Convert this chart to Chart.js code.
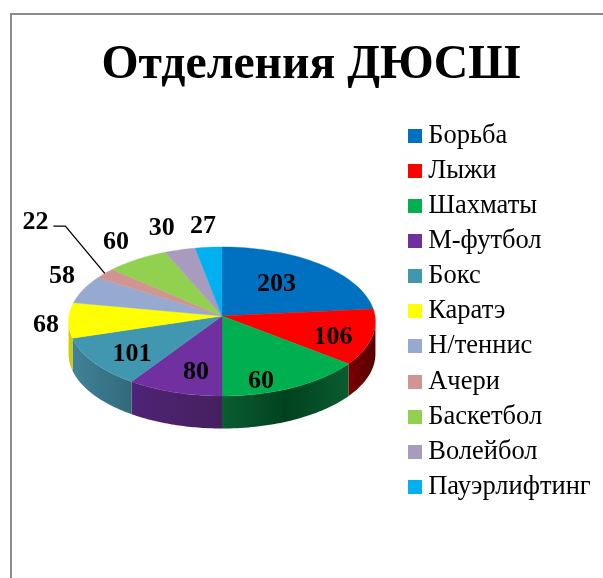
<!DOCTYPE html>
<html>
<head>
<meta charset="utf-8">
<script src="https://cdn.jsdelivr.net/npm/chart.js@4"></script>
<style>
  html, body { margin: 0; padding: 0; background: #fff; }
  #wrap { position: relative; width: 603px; height: 578px; }
</style>
</head>
<body>
<div id="wrap"><canvas id="chart" width="603" height="578"></canvas></div>
<script>
const categories = ['Борьба', 'Лыжи', 'Шахматы', 'М-футбол', 'Бокс', 'Каратэ', 'Н/теннис', 'Ачери', 'Баскетбол', 'Волейбол', 'Пауэрлифтинг'];
const sliceValues = [203, 104, 125, 81, 94, 66, 53, 21, 61, 30, 26];
const printedValues = ['203', '106', '60', '80', '101', '68', '58', '22', '60', '30', '27'];
const topColors = ['#0070C0', '#FF0000', '#00B050', '#7030A0', '#4197B0', '#FFFF00', '#95A9D1', '#D09492', '#92D050', '#A99BBD', '#00B0F0'];
const wallColors = [
  ['#00487c', '#00487c'], ['#7a0000', '#560000'], ['#0b5d32', '#00421f', '#0a5c30'], ['#4f2376', '#45205e'],
  ['#41829a', '#326a7b'], ['#cfcf00', '#cfcf00'], ['#606d87', '#606d87'], ['#866060', '#866060'],
  ['#5e8634', '#5e8634'], ['#6d647a', '#6d647a'], ['#00719b', '#00719b']
];
// label placement: radius as a share of the pie, and shift from the slice middle in degrees
const labelRadius = [0.6, 0.755, 0.835, 0.71, 0.737, 1.146, 1.242, 1.965, 1.34, 1.403, 1.375];
const labelSkew = [-4.3, 3.3, 9.3, -3.8, -3, -1.5, 7, 9.8, 2, -0.9, -0.3];
const leaderIndex = 7;

// pie projection
const pieX = 222, pieY = 316, rx = 153, ry = 74.1, persp = 0.0737, depth = 32.5;
const serif = '"Liberation Serif", "Times New Roman", serif';

function project(theta, f) {
  const u = f * Math.sin(theta), v = -f * Math.cos(theta), den = 1 - persp * v;
  return { x: pieX + rx * u / den, y: pieY + ry * v / den };
}

function swatch(color) {
  const c = document.createElement('canvas');
  c.width = 14; c.height = 14;
  const g = c.getContext('2d');
  g.fillStyle = color;
  g.fillRect(0, 0, 14, 14);
  return c;
}

const pie3d = {
  id: 'pie3d',
  beforeDraw(chart) {
    const ctx = chart.ctx;
    ctx.save();
    ctx.strokeStyle = '#8c8c8c';
    ctx.lineWidth = 2;
    ctx.beginPath();
    ctx.moveTo(11, 578);
    ctx.lineTo(11, 14);
    ctx.lineTo(603, 14);
    ctx.stroke();
    ctx.restore();
  },
  beforeDatasetsDraw(chart) {
    const ctx = chart.ctx;
    const arcs = chart.getDatasetMeta(0).data;
    const lim = Math.asin(persp);
    const front0 = Math.PI / 2 + lim, front1 = 3 * Math.PI / 2 - lim;
    const thetas = arcs.map(a => [a.startAngle + Math.PI / 2, a.endAngle + Math.PI / 2]);
    ctx.save();

    // side walls, only the front part shows
    thetas.forEach(([t0, t1], i) => {
      const a = Math.max(t0, front0), b = Math.min(t1, front1);
      if (b <= a) return;
      const pts = [];
      for (let s = 0; s <= 40; s++) pts.push(project(a + (b - a) * s / 40, 1));
      const xs = pts.map(p => p.x);
      const grad = ctx.createLinearGradient(Math.min(...xs), 0, Math.max(...xs), 0);
      const shades = wallColors[i];
      shades.forEach((c, n) => grad.addColorStop(n / (shades.length - 1), c));
      ctx.fillStyle = grad;
      ctx.beginPath();
      pts.forEach((p, n) => n ? ctx.lineTo(p.x, p.y) : ctx.moveTo(p.x, p.y));
      pts.slice().reverse().forEach(p => ctx.lineTo(p.x, p.y + depth));
      ctx.closePath();
      ctx.fill();
    });

    // top face
    thetas.forEach(([t0, t1], i) => {
      const steps = Math.max(4, Math.ceil((t1 - t0) * 30));
      ctx.fillStyle = topColors[i];
      ctx.strokeStyle = topColors[i];
      ctx.lineWidth = 0.4;
      ctx.beginPath();
      ctx.moveTo(pieX, pieY);
      for (let s = 0; s <= steps; s++) {
        const p = project(t0 + (t1 - t0) * s / steps, 1);
        ctx.lineTo(p.x, p.y);
      }
      ctx.closePath();
      ctx.fill();
      ctx.stroke();
    });

    // value labels
    ctx.fillStyle = '#000';
    ctx.font = 'bold 26px ' + serif;
    ctx.textAlign = 'center';
    ctx.textBaseline = 'middle';
    thetas.forEach(([t0, t1], i) => {
      const p = project((t0 + t1) / 2 + labelSkew[i] * Math.PI / 180, labelRadius[i]);
      ctx.fillText(printedValues[i], p.x, p.y + 2);
      if (i === leaderIndex) {
        const rim = project((t0 + t1) / 2, 1);
        ctx.strokeStyle = '#000';
        ctx.lineWidth = 1.3;
        ctx.beginPath();
        ctx.moveTo(p.x + 18, p.y + 6);
        ctx.lineTo(p.x + 30, p.y + 6);
        ctx.lineTo(rim.x, rim.y);
        ctx.stroke();
      }
    });
    ctx.restore();
    return false;
  }
};

new Chart(document.getElementById('chart'), {
  type: 'pie',
  data: {
    labels: categories,
    datasets: [{ data: sliceValues, backgroundColor: topColors, borderWidth: 0 }]
  },
  options: {
    responsive: false,
    animation: false,
    layout: { padding: { left: 21.3, top: 37, right: 2.3, bottom: 0 } },
    plugins: {
      tooltip: { enabled: false },
      title: {
        display: true,
        text: 'Отделения ДЮСШ',
        color: '#000',
        font: { family: serif, size: 47.7, weight: 'bold' },
        padding: { top: 0, bottom: 20 }
      },
      legend: {
        position: 'right',
        align: 'start',
        fullSize: false,
        labels: {
          color: '#000',
          font: { family: serif, size: 26.5 },
          usePointStyle: true,
          boxWidth: 0.5,
          padding: 8.57,
          generateLabels: (chart) => categories.map((name, i) => ({
            text: name, fillStyle: topColors[i], strokeStyle: topColors[i], lineWidth: 0,
            fontColor: '#000', pointStyle: swatch(topColors[i]), index: i, hidden: false
          }))
        }
      }
    }
  },
  plugins: [pie3d]
});
</script>
</body>
</html>
